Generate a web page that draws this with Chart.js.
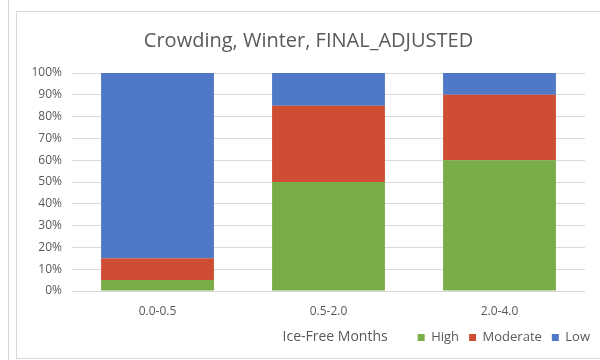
<!DOCTYPE html>
<html>
<head>
<meta charset="utf-8">
<script src="https://cdn.jsdelivr.net/npm/chart.js@4"></script>
<style>
  html, body { margin: 0; padding: 0; background: #fff; width: 600px; height: 360px; overflow: hidden; }
  .side { position: absolute; left: 0; top: 0; width: 8px; height: 360px; border-right: 1px solid #d4d4d4; }
  .frame { position: absolute; left: 16px; top: 11px; width: 600px; height: 346px; border: 1px solid #d9d9d9; background: #fff; }
  .frame canvas { display: block; }
</style>
</head>
<body>
<div class="side"></div>
<div class="frame"><canvas id="crowdingChart" width="583" height="346"></canvas></div>
<script>
const categories = ['0.0-0.5', '0.5-2.0', '2.0-4.0'];
const highValues = [5, 50, 60];
const moderateValues = [10, 35, 30];
const lowValues = [85, 15, 10];
const yTicks = [0, 10, 20, 30, 40, 50, 60, 70, 80, 90, 100];
const xTitle = 'Ice-Free Months';

const textColor = '#595959';
const fontFamily = '"Open Sans", "DejaVu Sans", sans-serif';

// Excel puts the axis title on the same row as the legend, so draw it next to the first legend item.
const axisTitleInLegendRow = {
    id: 'axisTitleInLegendRow',
    afterDraw(chart) {
        const boxes = chart.legend?.legendHitBoxes;
        if (!boxes || !boxes.length) return;
        const first = boxes[0];
        const ctx = chart.ctx;
        ctx.save();
        ctx.font = '14px ' + fontFamily;
        ctx.fillStyle = textColor;
        ctx.textAlign = 'right';
        ctx.textBaseline = 'middle';
        ctx.fillText(xTitle, first.left - 30, first.top + first.height / 2);
        ctx.restore();
    }
};

new Chart(document.getElementById('crowdingChart').getContext('2d'), {
    type: 'bar',
    data: {
        labels: categories,
        datasets: [
            { label: 'High', data: highValues, backgroundColor: '#78ad47' },
            { label: 'Moderate', data: moderateValues, backgroundColor: '#cf4e33' },
            { label: 'Low', data: lowValues, backgroundColor: '#4f78c6' }
        ]
    },
    options: {
        responsive: false,
        animation: false,
        layout: { padding: { left: 0, right: 0, top: 10, bottom: 4 } },
        datasets: { bar: { categoryPercentage: 1, barPercentage: 0.66 } },
        plugins: {
            title: {
                display: true,
                text: 'Crowding, Winter, FINAL_ADJUSTED',
                color: textColor,
                font: { family: fontFamily, size: 20, weight: 'normal' },
                padding: { top: 7, bottom: 20 }
            },
            legend: {
                position: 'bottom',
                align: 'end',
                labels: {
                    color: textColor,
                    boxWidth: 7, boxHeight: 7,
                    padding: 10,
                    font: { family: fontFamily, size: 13 }
                }
            },
            tooltip: { enabled: false }
        },
        scales: {
            x: {
                stacked: true,
                grid: { display: false },
                border: { display: false },
                afterFit(scale) { scale.height = 30; },
                ticks: { color: textColor, font: { family: fontFamily, size: 12 }, padding: 5 }
            },
            y: {
                stacked: true,
                min: 0, max: 100,
                afterFit(scale) { scale.width = 55; },
                afterBuildTicks(scale) { scale.ticks = yTicks.map(v => ({ value: v })); },
                grid: { color: '#d9d9d9', drawTicks: false },
                border: { display: false },
                ticks: {
                    color: textColor,
                    padding: 10,
                    font: { family: fontFamily, size: 12 },
                    callback: v => v + '%'
                }
            },
            // empty right-hand axis, only reserves the gap between plot and frame edge
            yGap: {
                position: 'right',
                min: 0, max: 100,
                afterFit(scale) { scale.width = 15; },
                grid: { display: false },
                border: { display: false },
                ticks: { display: false }
            }
        }
    },
    plugins: [axisTitleInLegendRow]
});
</script>
</body>
</html>
